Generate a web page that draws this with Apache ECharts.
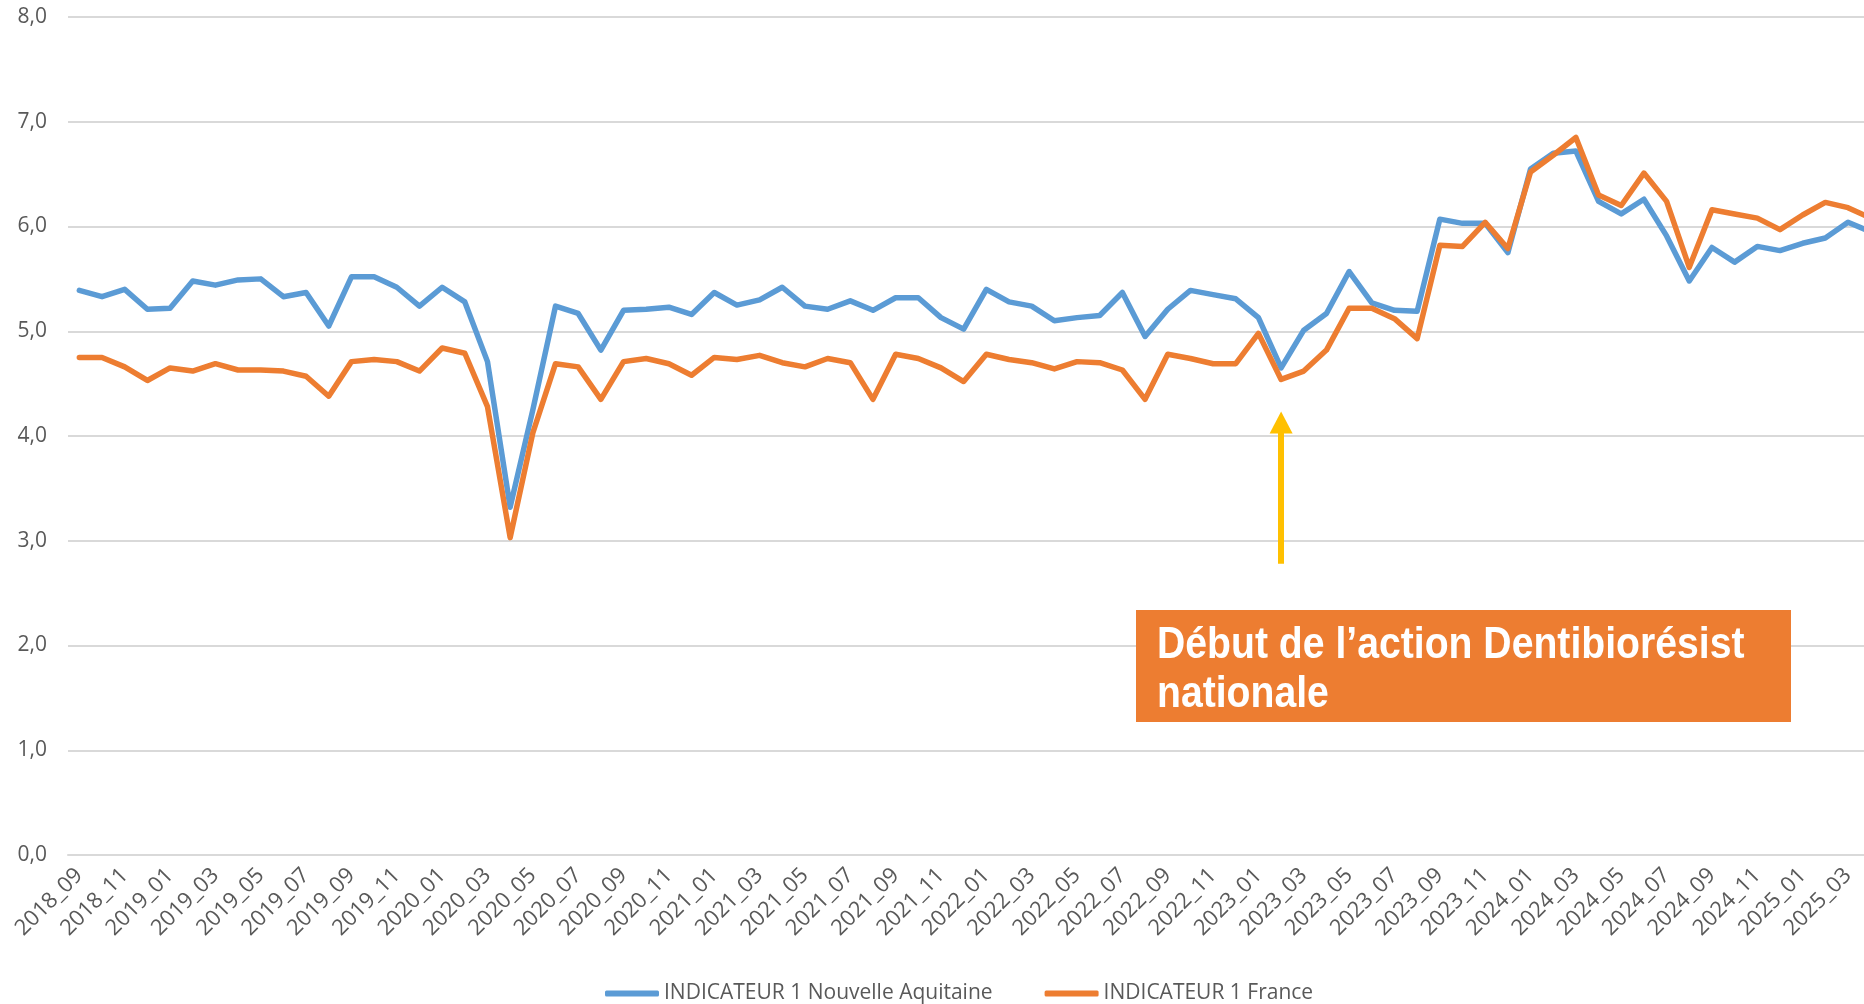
<!DOCTYPE html>
<html lang="fr">
<head>
<meta charset="utf-8">
<title>Indicateur 1</title>
<script src="https://cdn.jsdelivr.net/npm/echarts@6/dist/echarts.min.js"></script>
<style>
	html, body { margin: 0; padding: 0; background: #fff; }
	#chart { width: 1864px; height: 1004px; }
</style>
</head>
<body>
<div id="chart"></div>
<script>
// mois (le dernier est coupé par le bord droit)
const mois = [
	'2018_09', '2018_10', '2018_11', '2018_12',
	'2019_01', '2019_02', '2019_03', '2019_04', '2019_05', '2019_06', '2019_07', '2019_08', '2019_09', '2019_10', '2019_11', '2019_12',
	'2020_01', '2020_02', '2020_03', '2020_04', '2020_05', '2020_06', '2020_07', '2020_08', '2020_09', '2020_10', '2020_11', '2020_12',
	'2021_01', '2021_02', '2021_03', '2021_04', '2021_05', '2021_06', '2021_07', '2021_08', '2021_09', '2021_10', '2021_11', '2021_12',
	'2022_01', '2022_02', '2022_03', '2022_04', '2022_05', '2022_06', '2022_07', '2022_08', '2022_09', '2022_10', '2022_11', '2022_12',
	'2023_01', '2023_02', '2023_03', '2023_04', '2023_05', '2023_06', '2023_07', '2023_08', '2023_09', '2023_10', '2023_11', '2023_12',
	'2024_01', '2024_02', '2024_03', '2024_04', '2024_05', '2024_06', '2024_07', '2024_08', '2024_09', '2024_10', '2024_11', '2024_12',
	'2025_01', '2025_02', '2025_03', '2025_04',
]

const nouvelleAquitaine = [
	5.39, 5.33, 5.40, 5.21, 5.22, 5.48, 5.44, 5.49, 5.50, 5.33,
	5.37, 5.05, 5.52, 5.52, 5.42, 5.24, 5.42, 5.28, 4.71, 3.32,
	4.25, 5.24, 5.17, 4.82, 5.20, 5.21, 5.23, 5.16, 5.37, 5.25,
	5.30, 5.42, 5.24, 5.21, 5.29, 5.20, 5.32, 5.32, 5.13, 5.02,
	5.40, 5.28, 5.24, 5.10, 5.13, 5.15, 5.37, 4.95, 5.21, 5.39,
	5.35, 5.31, 5.13, 4.65, 5.01, 5.17, 5.57, 5.27, 5.20, 5.19,
	6.07, 6.03, 6.03, 5.75, 6.55, 6.70, 6.72, 6.24, 6.12, 6.26,
	5.91, 5.48, 5.80, 5.66, 5.81, 5.77, 5.84, 5.89, 6.04, 5.95,
]

const france = [
	4.75, 4.75, 4.66, 4.53, 4.65, 4.62, 4.69, 4.63, 4.63, 4.62,
	4.57, 4.38, 4.71, 4.73, 4.71, 4.62, 4.84, 4.79, 4.28, 3.03,
	4.03, 4.69, 4.66, 4.35, 4.71, 4.74, 4.69, 4.58, 4.75, 4.73,
	4.77, 4.70, 4.66, 4.74, 4.70, 4.35, 4.78, 4.74, 4.65, 4.52,
	4.78, 4.73, 4.70, 4.64, 4.71, 4.70, 4.63, 4.35, 4.78, 4.74,
	4.69, 4.69, 4.98, 4.54, 4.62, 4.82, 5.22, 5.22, 5.12, 4.93,
	5.82, 5.81, 6.04, 5.79, 6.52, 6.68, 6.85, 6.30, 6.20, 6.51,
	6.24, 5.61, 6.16, 6.12, 6.08, 5.97, 6.11, 6.23, 6.18, 6.08,
]

const yLabels = ['0,0', '1,0', '2,0', '3,0', '4,0', '5,0', '6,0', '7,0', '8,0']

// flèche : mois visé, bas et haut de la flèche
const debutAction = '2023_02'
const flecheBas = 2.78
const flecheHaut = 4.13

const textColor = '#595959'
const font = '"Open Sans", sans-serif'

const myChart = echarts.init(document.getElementById('chart'))

const option = {
	animation: false,
	backgroundColor: '#fff',
	grid: {
		left: 68,
		top: 17,
		height: 838,
		width: 1814,
		// le graphique d'origine est coupé à droite
		outerBoundsMode: 'none',
	},
	legend: {
		left: 600,
		top: 978,
		icon: 'roundRect',
		itemWidth: 54,
		itemHeight: 6,
		itemGap: 52,
		textStyle: { color: textColor, fontSize: 21, fontFamily: font },
		data: ['INDICATEUR 1 Nouvelle Aquitaine', 'INDICATEUR 1 France'],
	},
	xAxis: {
		type: 'category',
		data: mois,
		boundaryGap: true,
		axisLine: { lineStyle: { color: '#d9d9d9', width: 2 } },
		axisTick: { show: false },
		axisLabel: {
			interval: 1,
			rotate: 45,
			margin: 17,
			color: textColor,
			fontSize: 22,
			fontFamily: font,
		},
	},
	yAxis: {
		type: 'value',
		min: 0,
		max: 8,
		interval: 1,
		axisLine: { show: false },
		axisTick: { show: false },
		splitLine: { lineStyle: { color: '#d9d9d9', width: 2 } },
		axisLabel: {
			margin: 21,
			color: textColor,
			fontSize: 21,
			fontFamily: font,
			formatter: (v) => yLabels[Math.round(v)],
		},
	},
	series: [
		{
			name: 'INDICATEUR 1 Nouvelle Aquitaine',
			type: 'line',
			data: nouvelleAquitaine,
			showSymbol: false,
			color: '#5b9bd5',
			lineStyle: { width: 5.5, cap: 'round', join: 'round' },
		},
		{
			name: 'INDICATEUR 1 France',
			type: 'line',
			data: france,
			showSymbol: false,
			color: '#ed7d31',
			lineStyle: { width: 5.5, cap: 'round', join: 'round' },
			markLine: {
				silent: true,
				symbol: ['none', 'triangle'],
				symbolSize: [23, 22],
				label: { show: false },
				lineStyle: { color: '#ffc000', width: 6, type: 'solid' },
				data: [[
					{ coord: [debutAction, flecheBas] },
					{ coord: [debutAction, flecheHaut] },
				]],
			},
		},
	],
	// encadré posé par-dessus les lignes de grille
	graphic: [
		{
			type: 'rect',
			z: 100,
			shape: { x: 1136, y: 610, width: 655, height: 112 },
			style: { fill: '#ed7d31' },
		},
		{
			type: 'text',
			z: 101,
			x: 1157,
			y: 670,
			scaleX: 0.89,
			style: {
				text: 'Début de l’action Dentibiorésist\nnationale',
				fill: '#fff',
				font: 'bold 44px "Liberation Sans", sans-serif',
				lineHeight: 49,
				verticalAlign: 'middle',
			},
		},
	],
}

myChart.setOption(option)
</script>
</body>
</html>
